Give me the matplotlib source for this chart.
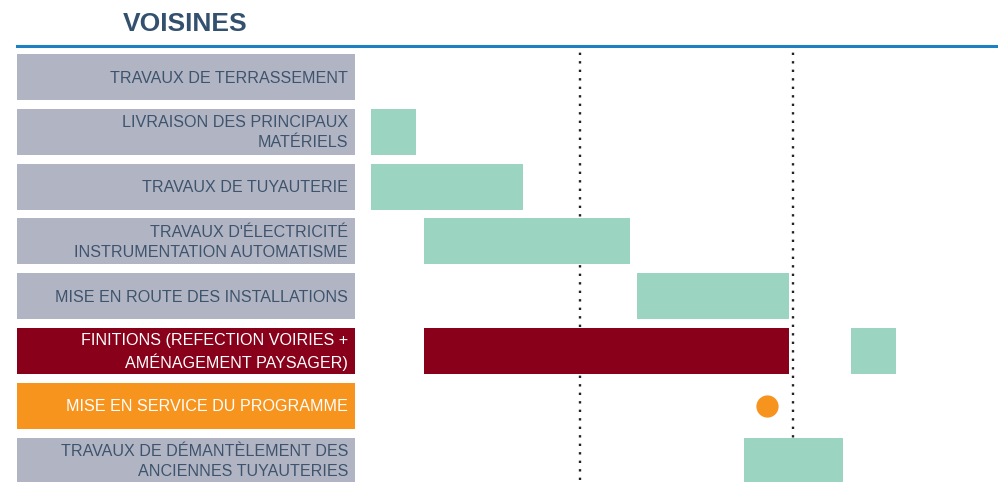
import matplotlib
matplotlib.use("Agg")
import matplotlib.pyplot as plt
from matplotlib.lines import Line2D

# ---- data ----
tasks = [
    "TRAVAUX DE TERRASSEMENT",
    "LIVRAISON DES PRINCIPAUX\nMATÉRIELS",
    "TRAVAUX DE TUYAUTERIE",
    "TRAVAUX D'ÉLECTRICITÉ\nINSTRUMENTATION AUTOMATISME",
    "MISE EN ROUTE DES INSTALLATIONS",
    "FINITIONS (REFECTION VOIRIES +\nAMÉNAGEMENT PAYSAGER)",
    "MISE EN SERVICE DU PROGRAMME",
    "TRAVAUX DE DÉMANTÈLEMENT DES\nANCIENNES TUYAUTERIES",
]
task_kind = ["normal", "normal", "normal", "normal", "normal", "highlight", "milestone", "normal"]
# bar segments per task: list of (start_month, end_month)
segments = [
    [],
    [(0, 1)],
    [(0, 3)],
    [(1, 5)],
    [(5, 8)],
    [(1, 8), (9, 10)],
    [],
    [(7, 9)],
]
segment_kind = [
    [],
    ["green"],
    ["green"],
    ["green"],
    ["green"],
    ["crimson", "green"],
    [],
    ["green"],
]
milestone_row = 6
milestone_month = 7.5
reference_months = [4, 8]
title = "VOISINES"

# ---- style ----
W, H = 998, 482
GRAY = "#B1B5C3"
TEXT_DARK = "#3E536D"
CRIMSON = "#89001A"
ORANGE = "#F7941E"
GREEN = "#9BD5C1"
BLUE = "#1C80C3"
TITLE_C = "#34506F"
box_fill = {"normal": GRAY, "highlight": CRIMSON, "milestone": ORANGE}
box_text = {"normal": TEXT_DARK, "highlight": "white", "milestone": "white"}
bar_fill = {"green": GREEN, "crimson": CRIMSON}

plt.rcParams["font.family"] = ["Liberation Sans", "DejaVu Sans"]

fig = plt.figure(figsize=(W / 100, H / 100), dpi=100)

# geometry (pixels)
y_top_px, y_bot_px = 47, 482
row0_px, row_step_px = 77, 54.8
ylim = ((y_bot_px - row0_px) / row_step_px, (y_top_px - row0_px) / row_step_px)
bar_h = 0.84

# gantt axes
x0_px, px_per_month = 367, 53.3
gx = fig.add_axes([x0_px / W, 1 - y_bot_px / H, 1 - x0_px / W, (y_bot_px - y_top_px) / H])
gx.set_xlim(0, (W - x0_px) / px_per_month)
gx.set_ylim(*ylim)
gx.axis("off")

inset = 0.075
for i, (segs, kinds) in enumerate(zip(segments, segment_kind)):
    for (s, e), k in zip(segs, kinds):
        gx.barh(i, (e - s) - 2 * inset, left=s + inset, height=bar_h,
                color=bar_fill[k], edgecolor="none", zorder=3)

for m in reference_months:
    gx.axvline(m, ymin=0.005, ymax=1, color="#222222", linestyle=(0, (1, 2.6)),
               linewidth=1.7, zorder=2)

gx.plot([milestone_month], [milestone_row], "o", color=ORANGE, markersize=16,
        markeredgecolor="none", zorder=4)

# label axes
lx0, lx1 = 17, 355
lx = fig.add_axes([lx0 / W, 1 - y_bot_px / H, (lx1 - lx0) / W, (y_bot_px - y_top_px) / H])
lx.set_xlim(0, 1)
lx.set_ylim(*ylim)
lx.axis("off")
for i, (t, k) in enumerate(zip(tasks, task_kind)):
    lx.barh(i, 1, left=0, height=bar_h, color=box_fill[k], edgecolor="none")
    lx.text(1 - 7 / (lx1 - lx0), i + 0.02, t, ha="right", va="center", fontsize=11.6,
            color=box_text[k], linespacing=1.42)

# title and blue rule
fig.text(123 / W, 1 - 24 / H, title, ha="left", va="center", fontsize=19,
         fontweight="bold", color=TITLE_C)
fig.add_artist(Line2D([17 / W, 1], [1 - 46 / H, 1 - 46 / H], color=BLUE, linewidth=2.2,
                      transform=fig.transFigure))

fig.savefig("out.png", dpi=100)
